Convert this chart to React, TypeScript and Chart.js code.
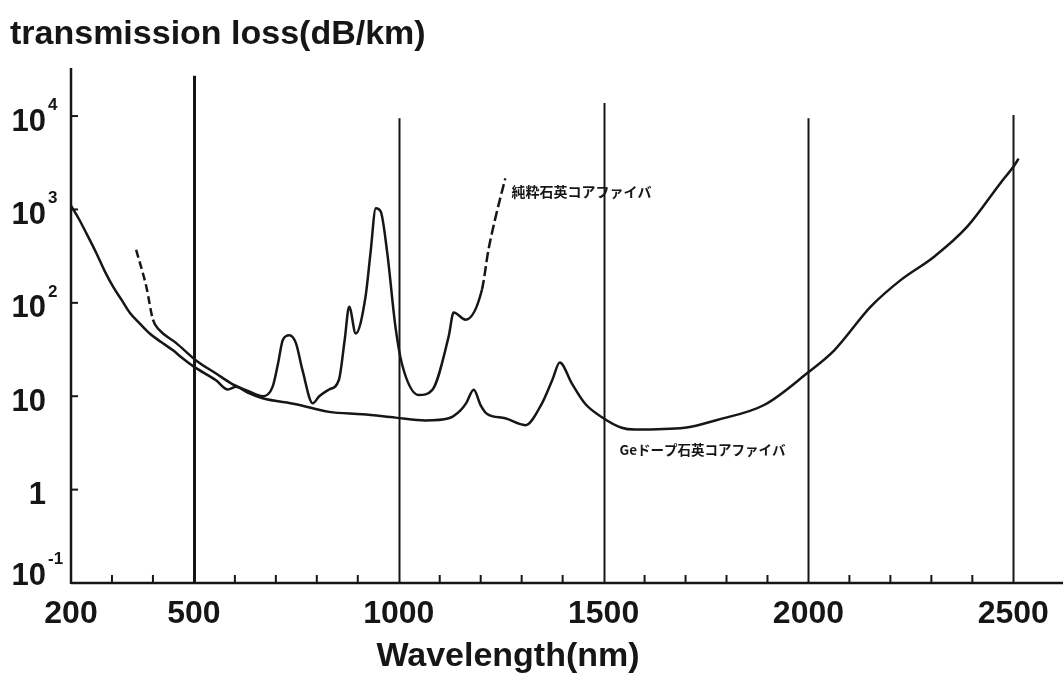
import React, { useEffect, useRef } from 'react';
import { Chart, registerables } from 'chart.js';

Chart.register(...registerables);

// Ge-doped silica core fiber (solid curve)
const geWavelengths = [200, 220, 238, 262, 282, 303, 325, 344, 368, 392, 420, 449, 470, 498, 554, 583, 603, 630, 668, 749, 830, 911, 992, 1065, 1122, 1150, 1165, 1183, 1200, 1215, 1260, 1309, 1349, 1375, 1393, 1422, 1455, 1495, 1544, 1576, 1698, 1779, 1893, 1998, 2063, 2152, 2225, 2306, 2387, 2468, 2501, 2513];
const geLoss = [1100, 780, 550, 340, 220, 148, 105, 78, 60, 47, 38, 31, 26, 21, 14.8, 11.8, 12.6, 11, 9.5, 8.2, 6.8, 6.4, 5.9, 5.5, 5.8, 7.0, 8.5, 11.7, 8.0, 6.5, 5.8, 4.9, 8.3, 15, 23, 13.8, 8.3, 6.0, 4.6, 4.4, 4.6, 5.6, 8.1, 17.8, 31, 91, 175, 310, 650, 1900, 2900, 3500];

// Pure silica core fiber (upper curve, dashed at both ends)
const pureWavelengths = [359, 384, 400, 416, 457, 506, 554, 595, 630, 668, 692, 705, 717, 733, 749, 765, 790, 806, 830, 854, 868, 879, 895, 919, 931, 944, 956, 972, 992, 1008, 1049, 1082, 1122, 1134, 1163, 1203, 1219, 1235, 1260];
const pureLoss = [370, 148, 66, 51, 37, 24, 17.5, 13.4, 11.5, 10, 12.6, 22, 40, 45, 37, 19, 8.4, 10, 11.8, 15, 40, 91, 47, 117, 340, 1030, 950, 340, 55, 22, 10.3, 11.7, 44, 79, 66, 138, 370, 780, 2150];

const xTickValues = [200, 500, 1000, 1500, 2000, 2500];
const xMinorTicks = [300, 400, 600, 700, 800, 900, 1100, 1200, 1300, 1400, 1600, 1700, 1800, 1900, 2100, 2200, 2300, 2400];
const yTickValues = [0.1, 1, 10, 100, 1000, 10000];
const yTickBase = ['10', '1', '10', '10', '10', '10'];
const yTickExp = ['-1', '', '', '2', '3', '4'];
const gridWavelengths = [500, 1000, 1500, 2000, 2500];
const gridTops = [27000, 9500, 13800, 9500, 10250];

const yTitle = 'transmission loss(dB/km)';
const xTitle = 'Wavelength(nm)';
const pureLabel = '純粋石英コアファイバ';
const pureLabelAt = [1275, 1550];
const geLabel = 'Geドープ石英コアファイバ';
const geLabelAt = [1539, 2.65];

const FONT = '"Liberation Sans", Arial, Helvetica, sans-serif';
const INK = '#161616';

const decorPlugin = {
  id: 'decor',
  beforeDatasetsDraw(chart: any) {
    const { ctx, chartArea: a, scales } = chart;
    const xs = scales.x;
    const ys = scales.y;
    ctx.save();
    ctx.strokeStyle = INK;
    ctx.lineCap = 'butt';
    gridWavelengths.forEach((w, i) => {
      const px = Math.round(xs.getPixelForValue(w)) + 0.5;
      ctx.lineWidth = i === 0 ? 3 : 2;
      ctx.beginPath();
      ctx.moveTo(px, a.bottom);
      ctx.lineTo(px, ys.getPixelForValue(gridTops[i]));
      ctx.stroke();
    });
    ctx.lineWidth = 2.5;
    ctx.beginPath();
    ctx.moveTo(a.left, a.bottom + 1);
    ctx.lineTo(a.left, a.top);
    ctx.stroke();
    ctx.beginPath();
    ctx.moveTo(a.left, a.bottom);
    ctx.lineTo(chart.width, a.bottom);
    ctx.stroke();
    ctx.lineWidth = 2;
    xMinorTicks.forEach((w) => {
      const px = xs.getPixelForValue(w);
      ctx.beginPath();
      ctx.moveTo(px, a.bottom);
      ctx.lineTo(px, a.bottom - 8);
      ctx.stroke();
    });
    yTickValues.forEach((v) => {
      if (v <= 0.1) return;
      const py = ys.getPixelForValue(v);
      ctx.beginPath();
      ctx.moveTo(a.left, py);
      ctx.lineTo(a.left + 7, py);
      ctx.stroke();
    });
    ctx.restore();
  },
  afterDraw(chart: any) {
    const { ctx, chartArea: a, scales } = chart;
    const xs = scales.x;
    const ys = scales.y;
    ctx.save();
    ctx.fillStyle = INK;
    ctx.font = `bold 34px ${FONT}`;
    ctx.textAlign = 'left';
    ctx.textBaseline = 'alphabetic';
    ctx.fillText(yTitle, 10, 44);
    yTickValues.forEach((v, i) => {
      const py = Math.min(ys.getPixelForValue(v) + 6, a.bottom - 7);
      ctx.font = `bold 31px ${FONT}`;
      ctx.textAlign = 'right';
      ctx.textBaseline = 'middle';
      ctx.fillText(yTickBase[i], 46, py);
      if (yTickExp[i]) {
        ctx.font = `bold 17px ${FONT}`;
        ctx.textAlign = 'left';
        ctx.fillText(yTickExp[i], 48, py - 17);
      }
    });
    ctx.font = `bold 34px ${FONT}`;
    ctx.textAlign = 'center';
    ctx.textBaseline = 'alphabetic';
    ctx.fillText(xTitle, 508, 666);
    ctx.font = `bold 14px "Noto Sans CJK JP", sans-serif`;
    ctx.textAlign = 'left';
    ctx.textBaseline = 'middle';
    ctx.fillText(pureLabel, xs.getPixelForValue(pureLabelAt[0]), ys.getPixelForValue(pureLabelAt[1]));
    ctx.font = `bold 13.5px "Noto Sans CJK JP", sans-serif`;
    ctx.fillText(geLabel, xs.getPixelForValue(geLabelAt[0]), ys.getPixelForValue(geLabelAt[1]));
    ctx.restore();
  },
};

export default function App() {
  const ref = useRef<HTMLCanvasElement | null>(null);
  useEffect(() => {
    if (!ref.current) return;
    const chart = new Chart(ref.current, {
      type: 'line',
      data: {
        datasets: [
          {
            label: geLabel,
            data: geWavelengths.map((x, i) => ({ x, y: geLoss[i] })),
            borderColor: INK,
            borderWidth: 2.5,
            pointRadius: 0,
            cubicInterpolationMode: 'monotone',
            fill: false,
          },
          {
            label: pureLabel,
            data: pureWavelengths.map((x, i) => ({ x, y: pureLoss[i] })),
            borderColor: INK,
            borderWidth: 2.5,
            pointRadius: 0,
            cubicInterpolationMode: 'monotone',
            fill: false,
            segment: {
              borderDash: (c: any) =>
                c.p0.parsed.x < 400 ? [8, 4] : c.p0.parsed.x >= 1203 ? [10, 4] : undefined,
            },
          },
        ],
      },
      options: {
        responsive: false,
        animation: false,
        layout: { padding: { top: 68, right: 3, left: 0, bottom: 0 } },
        plugins: {
          legend: { display: false },
          tooltip: { enabled: false },
          title: { display: false },
        },
        scales: {
          x: {
            type: 'linear',
            min: 200,
            max: 2614,
            afterBuildTicks: (s: any) => {
              s.ticks = xTickValues.map((v) => ({ value: v }));
            },
            afterFit: (s: any) => {
              s.height = 90;
            },
            grid: { display: false, drawTicks: false },
            border: { display: false },
            ticks: {
              autoSkip: false,
              maxRotation: 0,
              color: INK,
              padding: 12,
              font: { family: FONT, size: 32, weight: 'bold' },
              callback: (v: any) => String(v),
            },
          },
          y: {
            type: 'logarithmic',
            min: 0.1,
            max: 32700,
            afterFit: (s: any) => {
              s.width = 71;
            },
            grid: { display: false, drawTicks: false },
            border: { display: false },
            ticks: { display: false },
          },
        },
      } as any,
      plugins: [decorPlugin],
    });
    return () => chart.destroy();
  }, []);
  return (
    <div style={{ position: 'absolute', left: 0, top: 0, width: 1063, height: 673, background: '#fff' }}>
      <canvas ref={ref} width={1063} height={673} style={{ display: 'block' }} />
    </div>
  );
}
